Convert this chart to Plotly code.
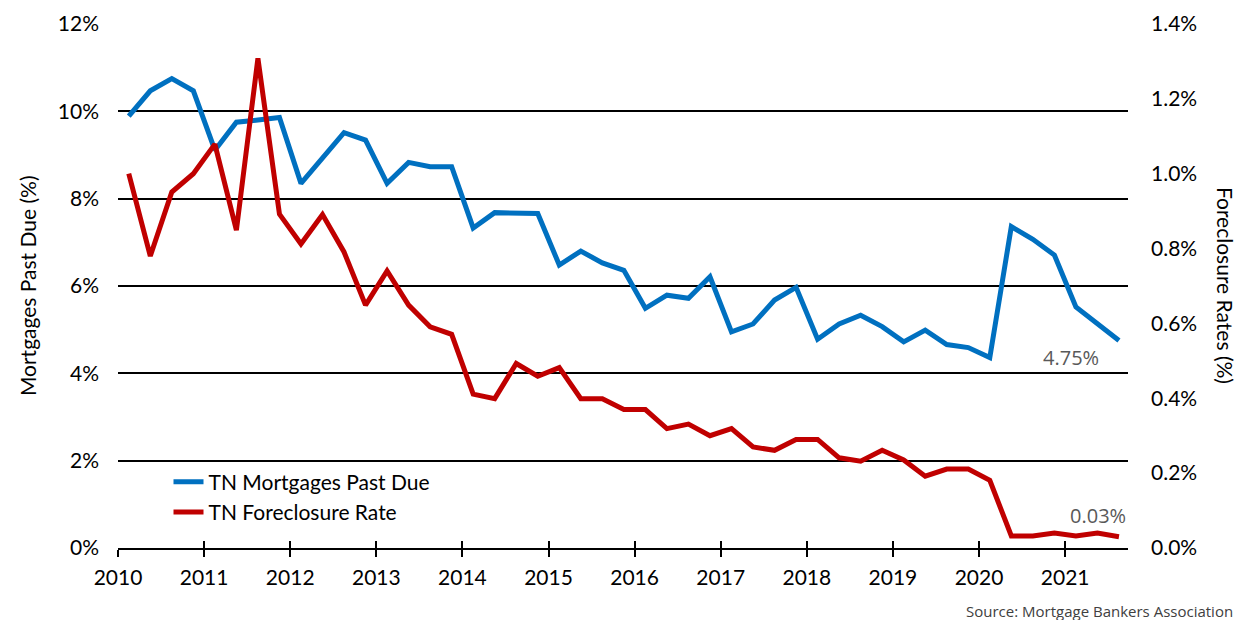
import plotly.graph_objects as go

# quarterly data, 2010 Q1 .. 2021 Q3
years = [y for y in range(2010, 2022) for _ in range(4)][:47]
quarters = [q for _ in range(2010, 2022) for q in (1, 2, 3, 4)][:47]

past_due = [9.89, 10.47, 10.75, 10.47, 9.11, 9.75, 9.80, 9.86,
            8.35, 8.92, 9.51, 9.34, 8.35, 8.83, 8.73, 8.73,
            7.33, 7.68, 7.66, 7.66, 6.48, 6.80, 6.53, 6.36,
            5.49, 5.79, 5.72, 6.21, 4.95, 5.13, 5.68, 5.97,
            4.78, 5.13, 5.33, 5.07, 4.72, 4.99, 4.66, 4.59,
            4.36, 7.36, 7.07, 6.71, 5.52, 5.13, 4.75]

foreclosure = [1.000, 0.780, 0.951, 1.000, 1.079, 0.849, 1.308, 0.892,
               0.812, 0.891, 0.791, 0.649, 0.740, 0.649, 0.591, 0.571,
               0.411, 0.399, 0.493, 0.459, 0.482, 0.399, 0.399, 0.370,
               0.370, 0.319, 0.331, 0.300, 0.319, 0.270, 0.261, 0.290,
               0.290, 0.241, 0.232, 0.261, 0.235, 0.192, 0.211, 0.211,
               0.181, 0.032, 0.032, 0.040, 0.032, 0.040, 0.030]

year_ticks = list(range(2010, 2022))
left_ticks = [0, 2, 4, 6, 8, 10, 12]
right_ticks = [0, 0.2, 0.4, 0.6, 0.8, 1.0, 1.2, 1.4]

# mid-quarter positions
x = [y + (q - 0.5) / 4 for y, q in zip(years, quarters)]

BLUE = '#0070C0'
RED = '#C00000'
FONT = 'Lato'
x_range = [2010, 2021.73]

fig = go.Figure()
fig.add_trace(go.Scatter(x=x, y=past_due, mode='lines', name='TN Mortgages Past Due',
                         line=dict(color=BLUE, width=5)))
fig.add_trace(go.Scatter(x=x, y=foreclosure, mode='lines', name='TN Foreclosure Rate',
                         line=dict(color=RED, width=5), yaxis='y2'))
# invisible trace so the overlay x-axis (upper half of the tick marks) gets drawn
fig.add_trace(go.Scatter(x=[x_range[0]], y=[0], xaxis='x2', mode='markers',
                         marker=dict(opacity=0), showlegend=False, hoverinfo='skip'))

# page body adds an 8px margin all round, so keep the figure inside the window
fig.update_layout(
    width=1229, height=612,
    margin=dict(l=110, r=109, t=16, b=72, autoexpand=False),
    paper_bgcolor='white', plot_bgcolor='white',
    font=dict(family=FONT, size=21, color='black'),
    legend=dict(x=0.05, y=0.165, xanchor='left', yanchor='top',
                bgcolor='rgba(0,0,0,0)', font=dict(size=21, family=FONT),
                tracegroupgap=0),
    xaxis=dict(range=x_range, tickvals=year_ticks, ticktext=[str(v) for v in year_ticks],
               showgrid=False, zeroline=False, showline=True, linecolor='black', linewidth=2,
               ticks='outside', ticklen=7, tickwidth=1.5, tickcolor='black',
               ticklabelstandoff=3, automargin=False),
    xaxis2=dict(range=x_range, overlaying='x', tickvals=year_ticks,
                showticklabels=False, showgrid=False, zeroline=False, showline=False,
                ticks='inside', ticklen=7, tickwidth=1.5, tickcolor='black', side='bottom',
                anchor='y', automargin=False),
    yaxis=dict(range=[0, 12], tickvals=left_ticks,
               ticktext=[f'{v}%' for v in left_ticks],
               showgrid=True, gridcolor='black', gridwidth=2,
               zeroline=False, showline=False, ticks='', ticklabelstandoff=18,
               automargin=False),
    yaxis2=dict(range=[0, 1.4], tickvals=right_ticks,
                ticktext=[f'{v:.1f}%' for v in right_ticks],
                overlaying='y', side='right', showgrid=False, zeroline=False,
                showline=False, ticks='', ticklabelstandoff=22, automargin=False),
)

fig.add_annotation(text='Mortgages Past Due (%)', xref='paper', yref='paper',
                   x=-0.090, y=0.5, xanchor='center', yanchor='middle',
                   showarrow=False, textangle=-90, font=dict(size=21, family=FONT))
fig.add_annotation(text='Foreclosure Rates (%)', xref='paper', yref='paper',
                   x=1.097, y=0.5, xanchor='center', yanchor='middle',
                   showarrow=False, textangle=90, font=dict(size=21, family=FONT))

fig.add_annotation(text='4.75%', x=x[-1] - 0.56, y=past_due[-1] - 0.38, xref='x', yref='y',
                   showarrow=False, font=dict(size=20, family='Open Sans', color='#595959'))
fig.add_annotation(text='0.03%', x=x[-1] - 0.24, y=foreclosure[-1] + 0.058, xref='x', yref='y2',
                   showarrow=False, font=dict(size=20, family='Open Sans', color='#595959'))

fig.add_annotation(text='Source: Mortgage Bankers Association', xref='paper', yref='paper',
                   x=1.106, y=-0.121, xanchor='right', yanchor='middle', showarrow=False,
                   font=dict(size=15, family='Open Sans', color='#404040'))

fig.write_html('out.html')
